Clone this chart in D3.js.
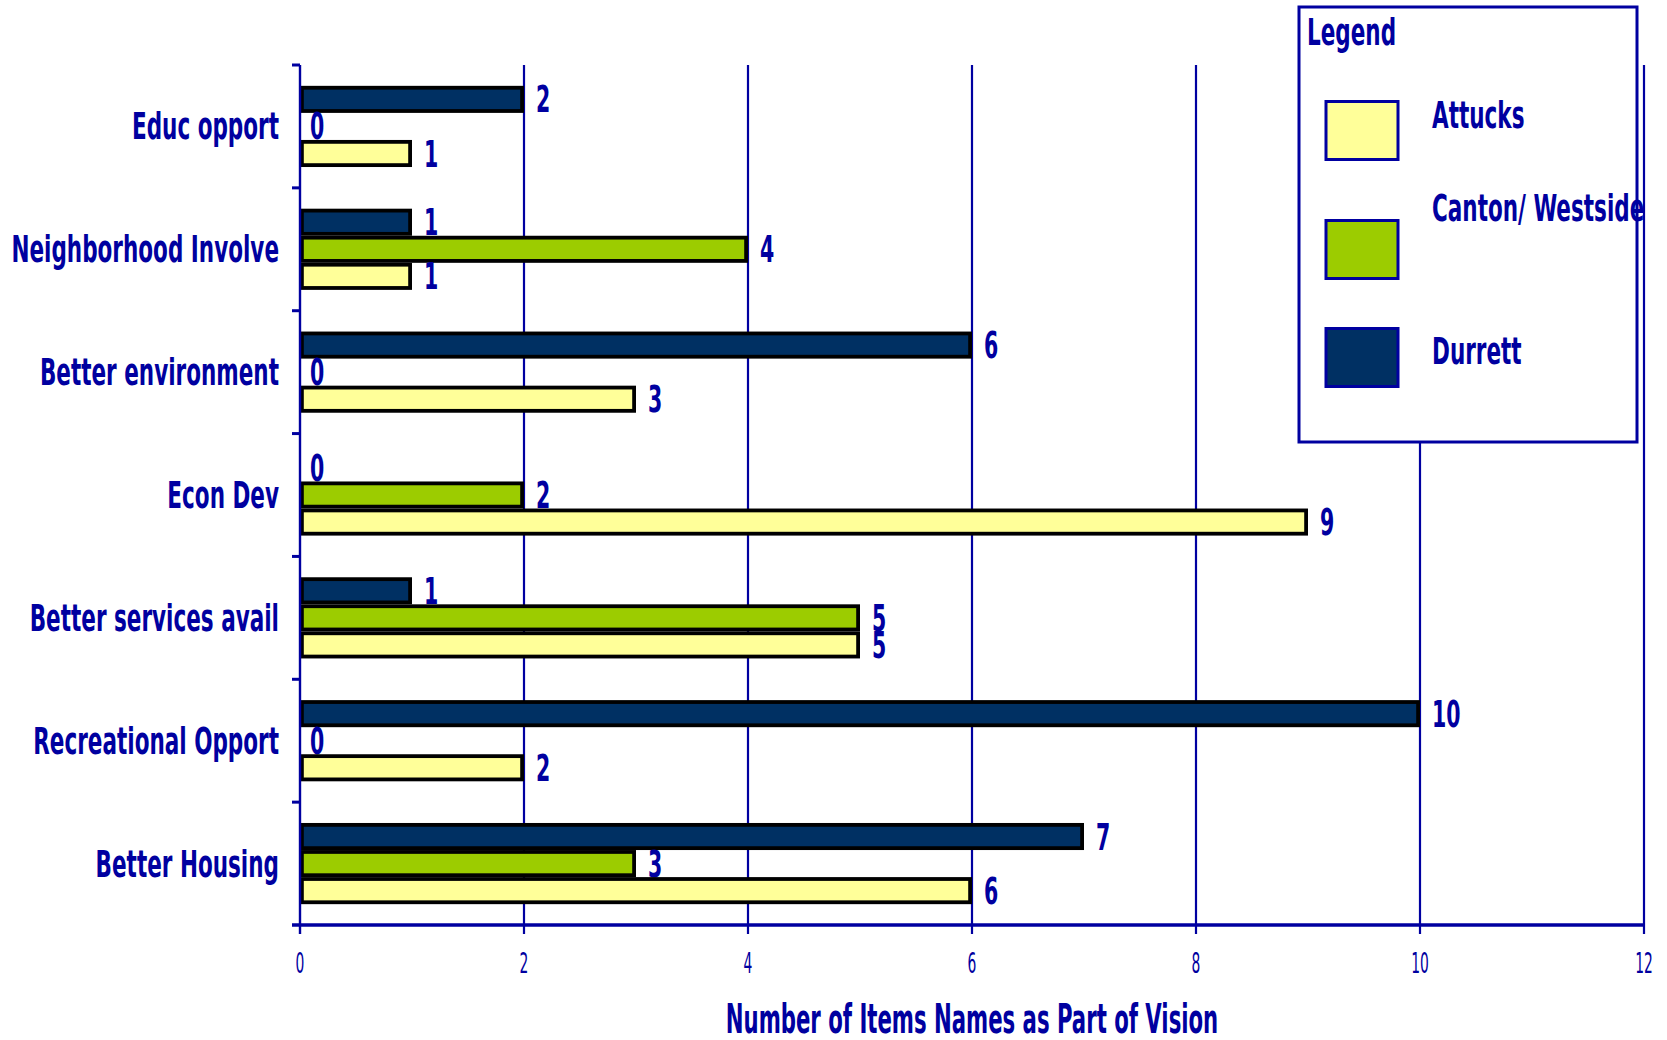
<!DOCTYPE html>
<html>
<head>
<meta charset="utf-8">
<script src="https://cdn.jsdelivr.net/npm/d3@7"></script>
<style>
  html, body { margin: 0; padding: 0; background: #fff; }
  svg { display: block; }
  text { font-family: "DejaVu Sans Condensed", "Liberation Sans", sans-serif; }
</style>
</head>
<body>
<svg id="chart" width="1667" height="1040"></svg>
<script>
// ---------- data ----------
const categories = ["Educ opport", "Neighborhood Involve", "Better environment", "Econ Dev",
                    "Better services avail", "Recreational Opport", "Better Housing"];
const seriesNames = ["Durrett", "Canton/ Westside", "Attucks"];   // top-to-bottom order within a group
const durrett = [2, 1, 6, 0, 1, 10, 7];
const canton  = [0, 4, 0, 2, 5, 0, 3];
const attucks = [1, 1, 3, 9, 5, 2, 6];
const xTicks = [0, 2, 4, 6, 8, 10, 12];
const legendOrder = ["Attucks", "Canton/ Westside", "Durrett"];
const axisTitle = "Number of Items Names as Part of Vision";

// ---------- style ----------
const BLUE = "#0000a0";
const colors = { "Durrett": "#003063", "Canton/ Westside": "#9ccc00", "Attucks": "#ffff99" };
const values = { "Durrett": durrett, "Canton/ Westside": canton, "Attucks": attucks };

const svg = d3.select("#chart");
const L = 300, R = 1644, T = 65, B = 925;

const x = d3.scaleLinear().domain([0, 12]).range([L, R]);
const y = d3.scaleBand().domain(categories).range([T, B]).padding(0);
const ySub = d3.scaleBand().domain(seriesNames).range([0, y.bandwidth()])
  .paddingInner(0).paddingOuter(0.77);

function txt(g, px, py, s, o) {
  return g.append("text")
    .attr("transform", `translate(${px},${py}) scale(${o.sx || 1},1)`)
    .attr("text-anchor", o.anchor || "start")
    .attr("font-size", o.size)
    .attr("font-weight", o.weight || "bold")
    .attr("fill", BLUE)
    .text(s);
}

// gridlines (with ticks below axis)
const grid = svg.append("g");
grid.selectAll("line").data(xTicks.filter(d => d > 0)).join("line")
  .attr("x1", d => x(d)).attr("x2", d => x(d))
  .attr("y1", T).attr("y2", B + 9)
  .attr("stroke", BLUE).attr("stroke-width", 2.2);

// bars
const barG = svg.append("g");
const sw = 3.8;
categories.forEach((c, i) => {
  seriesNames.forEach(s => {
    const v = values[s][i];
    const y0 = y(c) + ySub(s);
    const h = ySub.bandwidth();
    if (v > 0) {
      barG.append("rect")
        .attr("x", x(0) + sw / 2).attr("y", y0 + sw / 2)
        .attr("width", x(v) - x(0) - sw).attr("height", h - sw)
        .attr("fill", colors[s]).attr("stroke", "#000").attr("stroke-width", sw);
    }
    txt(barG, x(v) + (v > 0 ? 12 : 10), y0 + h - 0.5, String(v), { size: 38, sx: 0.6 });
  });
});

// axes
svg.append("line").attr("x1", L).attr("x2", L).attr("y1", T).attr("y2", B + 9)
  .attr("stroke", BLUE).attr("stroke-width", 2.4);
svg.append("line").attr("x1", L - 8).attr("x2", R).attr("y1", B).attr("y2", B)
  .attr("stroke", BLUE).attr("stroke-width", 3.6);
svg.append("g").selectAll("line").data(categories).join("line")
  .attr("x1", L - 8).attr("x2", L).attr("y1", d => y(d)).attr("y2", d => y(d))
  .attr("stroke", BLUE).attr("stroke-width", 3);

// x tick labels
const tl = svg.append("g");
xTicks.forEach(t => txt(tl, x(t), 973, String(t), { size: 28, sx: 0.55, anchor: "middle", weight: "normal" }));

// category labels
const cl = svg.append("g");
categories.forEach(c => txt(cl, 279, y(c) + y.bandwidth() / 2 + 13, c, { size: 38, sx: 0.63, anchor: "end" }));

// axis title
txt(svg, (L + R) / 2, 1033, axisTitle, { size: 40, sx: 0.59, anchor: "middle" });

// legend
const lg = svg.append("g");
lg.append("rect").attr("x", 1299).attr("y", 7).attr("width", 338).attr("height", 435)
  .attr("fill", "#fff").attr("stroke", BLUE).attr("stroke-width", 3);
txt(lg, 1307, 45, "Legend", { size: 38, sx: 0.63 });
const legendRows = [ { sy: 100, ty: 128 }, { sy: 219, ty: 221 }, { sy: 327, ty: 364 } ];
legendOrder.forEach((s, i) => {
  lg.append("rect").attr("x", 1326).attr("y", legendRows[i].sy + 1.5)
    .attr("width", 72).attr("height", 58)
    .attr("fill", colors[s]).attr("stroke", BLUE).attr("stroke-width", 3);
  txt(lg, 1432, legendRows[i].ty, s, { size: 38, sx: 0.63 });
});
</script>
</body>
</html>
